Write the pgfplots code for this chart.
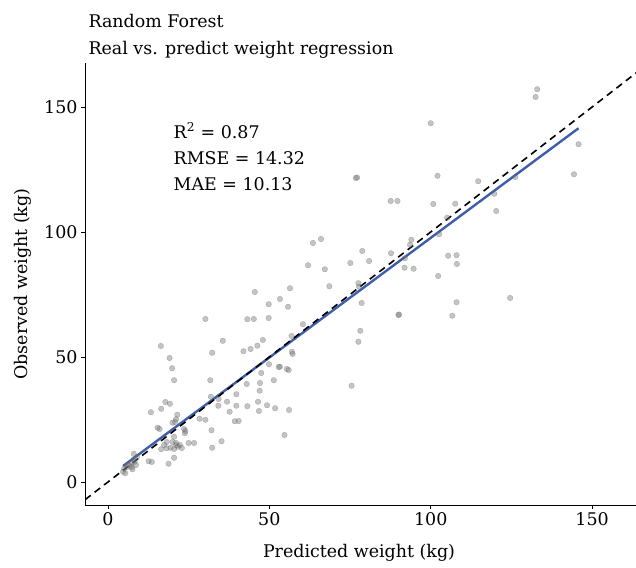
\documentclass[border=0pt]{standalone}
\usepackage{pgfplots}
\pgfplotsset{compat=1.18}
\usepackage{fontspec}
\setmainfont{DejaVu Serif}
\definecolor{fitblue}{RGB}{62,94,170}
\begin{document}
\begin{tikzpicture}[x=1bp,y=1bp]
\path[use as bounding box] (-85,-63) rectangle (551,505);
\begin{axis}[
  at={(0,0)}, anchor=south west,
  width=551bp, height=442bp, scale only axis,
  xmin=-7.1, xmax=163.6, ymin=-9.2, ymax=167.6,
  axis lines=left, axis line style={-, line width=0.8bp},
  xtick={0,50,100,150}, ytick={0,50,100,150},
  tick align=outside, major tick length=4bp,
  tick style={line width=0.6bp, black},
  minor tick num=0,
  /pgf/number format/assume math mode=true,
  ticklabel style={font=\fontsize{17.5}{20}\selectfont},
  clip=true,
]
\addplot[only marks, mark=*, mark size=2.8bp,
  mark options={fill=black!55, draw=black!65, line width=0.3bp, opacity=0.42}]
coordinates {
(133.0,157.1) (132.5,154.0) (100.0,143.5) (145.8,135.1) (144.4,123.1) (102.1,122.5)
(114.7,120.3) (126.2,122.0) (119.7,115.3) (120.3,108.4) (100.8,111.2) (107.6,111.3)
(105.1,105.7) (102.6,99.1) (105.4,90.5) (108.0,90.7) (108.1,87.2) (102.3,82.4)
(108.0,71.9) (124.6,73.6) (106.7,66.5)
(76.8,121.6) (77.2,121.8) (87.6,112.4) (89.7,112.4) (63.5,95.6) (66.0,97.2)
(94.0,96.9) (93.6,94.9) (78.8,92.4) (87.7,91.5) (62.0,86.7) (67.2,85.1)
(75.1,87.6) (80.9,88.4) (92.0,89.5) (91.9,85.7) (94.7,85.3) (56.4,77.5)
(68.6,78.3) (77.6,79.5) (77.8,78.1)
(53.3,73.2) (55.8,70.1) (78.6,71.6) (90.0,66.8) (90.2,67.0) (60.4,63.1)
(78.2,60.5) (56.9,58.4) (77.6,56.1) (57.0,52.1) (57.2,51.2) (53.3,46.1)
(55.4,45.2) (56.0,44.8) (75.5,38.5) (56.1,28.8)
(45.5,76.0) (49.8,71.1) (43.2,65.1) (45.2,65.2) (49.8,65.6) (48.0,56.8)
(42.0,52.3) (44.2,53.2) (46.3,54.5) (49.9,47.1) (52.9,46.0) (47.5,43.6)
(43.0,39.2) (47.1,39.6) (51.4,40.7) (47.0,36.5) (43.2,30.3) (46.5,32.1)
(49.3,30.7) (51.8,29.5) (46.8,28.4)
(30.2,65.2) (16.4,54.4) (35.6,56.5) (32.3,51.7) (19.1,49.6) (19.9,45.5)
(20.5,40.7) (31.7,40.7)
(31.9,34.1) (34.3,33.2) (36.9,32.1) (39.8,35.1) (39.8,30.5) (13.3,27.9)
(16.5,29.3) (17.8,32.0) (19.2,31.3) (21.5,26.9) (21.1,25.1) (20.8,24.0)
(20.0,23.7) (15.4,21.7) (16.0,21.2) (23.6,21.2) (24.0,20.4) (23.8,19.5)
(28.4,25.3) (30.2,24.9) (34.2,30.5) (37.7,28.1) (39.3,24.3) (40.5,24.4)
(32.1,20.7) (35.2,16.3) (32.3,13.7) (54.7,18.8)
(20.5,18.1) (20.0,16.0) (21.1,15.6) (22.3,14.8) (21.2,14.7) (21.7,14.1)
(18.2,16.0) (17.4,14.8) (16.5,13.1) (18.2,13.5) (19.4,13.7) (20.5,13.2)
(22.9,13.6) (25.0,15.6) (26.7,15.6) (20.5,9.7) (18.8,7.3) (12.6,8.3)
(13.6,8.0) (8.0,11.3) (8.0,9.1) (8.3,8.1) (7.3,7.5) (6.8,6.4)
(5.8,5.9) (5.0,5.3) (4.7,4.1) (5.4,3.5) (7.4,5.9) (8.7,6.8)
(7.6,5.1) (6.2,7.0) (9.0,10.0)
};
% fitted regression line
\addplot[fitblue, line width=2.4bp] coordinates {(4.7,6.4) (145.8,141.5)};
% identity line
\addplot[black, line width=1.6bp, dash pattern=on 7bp off 5bp] coordinates {(-10,-10) (170,170)};
\node[anchor=west, align=left, font=\fontsize{17.5}{26.5}\selectfont] at (axis cs:19.3,130)
  {R\textsuperscript{2} = 0.87\\RMSE = 14.32\\MAE = 10.13};
\end{axis}
\node[anchor=base west, font=\fontsize{17.5}{20}\selectfont] at (0,477) {Random Forest};
\node[anchor=base west, font=\fontsize{17.5}{20}\selectfont] at (0,450) {Real vs. predict weight regression};
\node[anchor=base, font=\fontsize{17.5}{20}\selectfont] at (274,-53) {Predicted weight (kg)};
\node[anchor=base, rotate=90, font=\fontsize{17.5}{20}\selectfont] at (-57,221) {Observed weight (kg)};
\end{tikzpicture}
\end{document}
